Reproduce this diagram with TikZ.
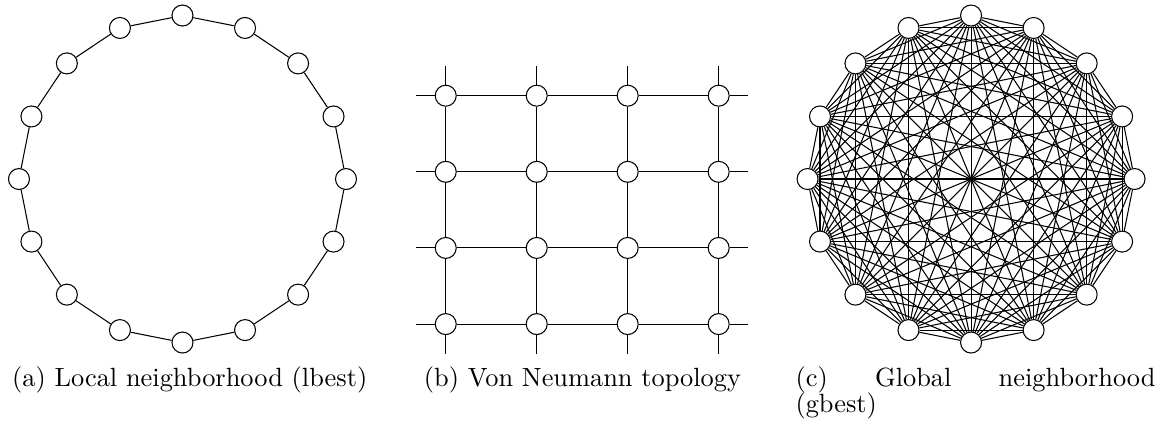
\documentclass[tikz,border=0pt]{standalone}
\usepackage{tikz}
\usetikzlibrary{positioning,calc}

\begin{document}
\begin{tikzpicture}[
    particle/.style={circle, draw, fill=white, minimum size=0.28cm, inner sep=0pt},
    link/.style={line width=0.4pt},
    capt/.style={anchor=base west, inner sep=0pt}
]
    \useasboundingbox (0,0) rectangle (15.613,-5.707);

    % (a) Ring
    \coordinate (ringc) at (2.433,-2.387);
    \foreach \i in {1,...,16}
        \node[particle] (l\i) at ($(ringc)+({90+22.5*(\i-1)}:2.18)$) {};
    \foreach \i [remember=\i as \j (initially 16)] in {1,...,16}
        \draw[link] (l\j) -- (l\i);

    % (b) Grid
    \foreach \r in {1,...,4}
        \foreach \c in {1,...,4}
            \node[particle] (g\r\c) at ({5.943+1.213*(\c-1)},{-1.276-1.015*(\r-1)}) {};
    \foreach \r in {1,...,4} {
        \foreach \c [evaluate=\c as \n using int(\c+1)] in {1,2,3} {
            \draw[link] (g\r\c) -- (g\r\n);
            \draw[link] (g\c\r) -- (g\n\r);
        }
    }
    % wrap-around stubs
    \foreach \k in {1,...,4} {
        \coordinate[left=0.25cm of g\k1] (w\k);
        \coordinate[right=0.25cm of g\k4] (e\k);
        \coordinate[above=0.25cm of g1\k] (n\k);
        \coordinate[below=0.25cm of g4\k] (s\k);
        \draw[link] (g\k1) -- (w\k);
        \draw[link] (g\k4) -- (e\k);
        \draw[link] (g1\k) -- (n\k);
        \draw[link] (g4\k) -- (s\k);
    }

    % (c) Fully connected
    \coordinate (fullc) at (12.947,-2.387);
    \foreach \i in {1,...,16}
        \node[particle] (c\i) at ($(fullc)+({90+22.5*(\i-1)}:2.18)$) {};
    \foreach \i in {1,...,15} {
        \pgfmathtruncatemacro\k{\i+1}
        \foreach \j in {\k,...,16}
            \draw[link] (c\i) -- (c\j);
    }

    % Captions
    \node[capt] (capa) at (0.156,-5.147) {(a) Local neighborhood (lbest)};
    \node[capt] (capb) at (5.644,-5.147) {(b) Von Neumann topology};
    \node[capt, text width=4.8cm, align=justify, font=\linespread{0.84}\selectfont] (capc) at (10.6,-5.147)
        {(c) Global neighborhood\linebreak (gbest)};
\end{tikzpicture}
\end{document}
